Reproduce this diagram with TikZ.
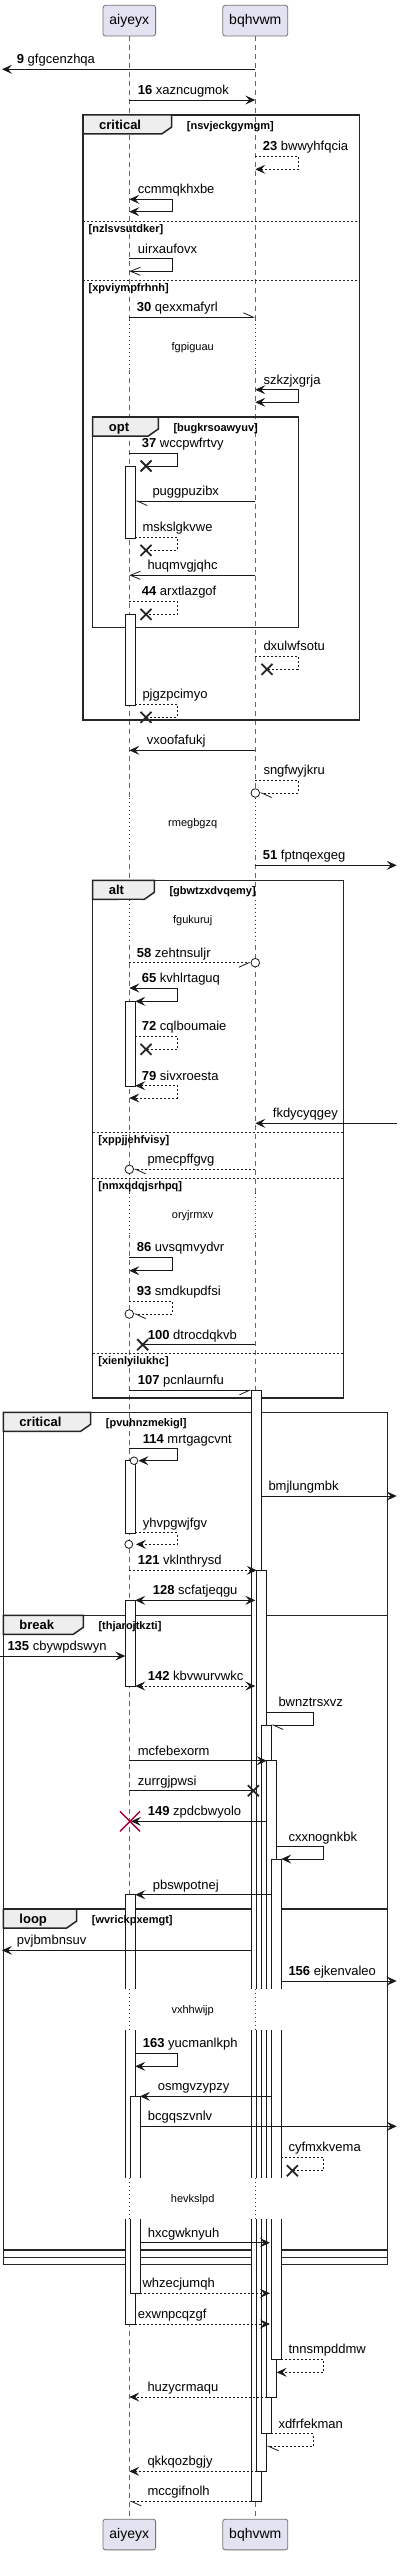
\documentclass[tikz,border=0pt]{standalone}
\usepackage{fontspec}
\setmainfont{Liberation Sans}
\usetikzlibrary{arrows.meta}
\definecolor{partfill}{HTML}{E2E2F0}
\definecolor{tabfill}{HTML}{EEEEEE}
\definecolor{delaycol}{HTML}{A80036}
\tikzstyle{partbox}=[draw=black!55,line width=0.8pt,fill=partfill,rounded corners=2.5pt,minimum height=30.7pt,inner sep=0pt,font=\fontsize{14}{16}\selectfont]
\tikzstyle{lifeline}=[black!60,line width=0.8pt,dash pattern=on 5pt off 4pt]
\tikzstyle{delayline}=[delaycol,line width=0.8pt,dash pattern=on 1pt off 3pt]
\tikzstyle{actbox}=[draw=black!90,fill=white,line width=0.8pt]
\tikzstyle{framebox}=[draw=black!85,line width=1.5pt]
\tikzstyle{frametab}=[draw=black!85,fill=tabfill,line width=1.5pt]
\tikzstyle{sepline}=[black!85,line width=0.8pt,dash pattern=on 2pt off 2pt]
\tikzstyle{sync}=[black!90,line width=0.8pt]
\tikzstyle{dsync}=[sync,dash pattern=on 2pt off 2pt]
\tikzstyle{headfull}=[-{Stealth[length=10pt,width=9pt,inset=4pt]}]
\tikzstyle{headboth}=[{Stealth[length=10pt,width=9pt,inset=4pt]}-{Stealth[length=10pt,width=9pt,inset=4pt]}]
\tikzstyle{headopen}=[-{Straight Barb[length=10pt,width=8pt]}]
\tikzstyle{halfl}=[-{Straight Barb[left,length=10pt,width=9pt]}]
\tikzstyle{halfr}=[-{Straight Barb[right,length=10pt,width=9pt]}]
\tikzstyle{lostx}=[black!85,line width=1.8pt]
\tikzstyle{killx}=[delaycol,line width=1.5pt]
\tikzstyle{ocirc}=[draw=black!90,fill=white,line width=0.8pt]
\tikzstyle{msglbl}=[anchor=base west,inner sep=0pt,font=\fontsize{13}{15}\selectfont]
\tikzstyle{guardlbl}=[anchor=base west,inner sep=0pt,font=\fontsize{11}{13}\selectfont\bfseries]
\tikzstyle{kindlbl}=[anchor=base west,inner sep=0pt,font=\fontsize{13}{15}\selectfont\bfseries]
\tikzstyle{delaylbl}=[inner sep=0pt,font=\fontsize{11}{13}\selectfont]
\def\xa{129.3}
\def\xb{255.3}
\begin{document}
\begin{tikzpicture}[x=1pt,y=-1pt]
\useasboundingbox (0,0) rectangle (402,2555);
\fill[white] (0,0) rectangle (402,2555);

% participants and lifelines
\node[partbox,minimum width=52.6pt] (pa) at (\xa,20.7) {aiyeyx};
\node[partbox,minimum width=65pt] (pb) at (\xb,20.7) {bqhvwm};
\node[partbox,minimum width=52.6pt] (pa2) at (\xa,2534.5) {aiyeyx};
\node[partbox,minimum width=65pt] (pb2) at (\xb,2534.5) {bqhvwm};
\draw[lifeline] (pa) -- (pa2);
\draw[lifeline] (pb) -- (pb2);

% frames
\foreach \xl/\yt/\xr/\yb/\tb in {83/115/359.7/720/171.7, 92.7/417/298.3/627.3/158.3,
  92.7/880.3/343.3/1398/154.3, 3.3/1412.3/387.7/2264.3/90.7,
  3.3/1615.3/387.7/2257.7/83.3, 3.3/1909/387.7/2250/76.7}{
  \draw[framebox] (\xl,\yt) rectangle (\xr,\yb);
  \filldraw[frametab] (\xl,\yt) -- (\tb,\yt) -- (\tb,\yt+12) -- (\tb-10,\yt+19) -- (\xl,\yt+19) -- cycle;
}
\foreach \xl/\xr/\ys in {83/359.7/221.3, 83/359.7/280.3, 92.7/343.3/1132.3, 92.7/343.3/1178.3, 92.7/343.3/1353.3}
  \draw[sepline] (\xl,\ys) -- (\xr,\ys);

% activations
\foreach \xl/\yt/\yb in {125.3/466.3/538.3, 125.3/614.3/705.3, 125.3/1001.3/1086.7, 125.3/1460.7/1533.3,
  125.3/1600.3/1686, 125.3/1894.7/2324, 130/2096.3/2293.3, 251.3/1390.3/2501.3, 256.7/1570.3/2471.3,
  261.3/1725/2433.7, 266.7/1760.7/2397, 271.3/1859/2359}
  \draw[actbox] (\xl,\yt) rectangle (\xl+10,\yb);

% frame labels
\foreach \xl/\yt/\tb/\kind/\guard [count=\i] in {83/115/171.7/critical/nsvjeckgymgm,
  92.7/417/158.3/opt/bugkrsoawyuv, 92.7/880.3/154.3/alt/gbwtzxdvqemy,
  3.3/1412.3/90.7/critical/pvuhnzmekigl, 3.3/1615.3/83.3/break/thjarojtkzti,
  3.3/1909/76.7/loop/wvrickpxemgt}{
  \node[kindlbl] (fk\i) at (\xl+16,\yt+14.5) {\kind};
  \node[guardlbl] (fg\i) at (\tb+15,\yt+14.5) {[\guard]};
}
\foreach \xl/\ys/\guard [count=\i] in {83/221.3/nzlsvsutdker, 83/280.3/xpviympfrhnh,
  92.7/1132.3/xppjjehfvisy, 92.7/1178.3/nmxqdqjsrhpq, 92.7/1353.3/xienlyilukhc}
  \node[guardlbl] (sg\i) at (\xl+5.5,\ys+11) {[\guard]};

% delays
\foreach \yt/\yb/\ym/\txt [count=\i] in {320/370/347.3/fgpiguau, 798/852/823.3/rmegbgzq, 899.5/940.3/920.3/fgukuruj,
  1192.5/1235/1215.3/oryjrmxv, 1988.7/2030.3/2011/vxhhwijp, 2178.3/2219.3/2200/hevkslpd}{
  \fill[white] (118,\yt) rectangle (142,\yb);
  \fill[white] (247,\yt) rectangle (290,\yb);
  \draw[delayline] (\xa,\yt) -- (\xa,\yb);
  \draw[delayline] (\xb,\yt) -- (\xb,\yb);
  \node[delaylbl] (dl\i) at (192.7,\ym) {\txt};
}

% messages
\draw[sync,headfull] (\xb,69.3) -- (2,69.3);
\node[msglbl] (m9) at (16.7,63.8) {\textbf{9} gfgcenzhqa};
\draw[sync,headfull] (\xa,100) -- (\xb,100);
\node[msglbl] (m16) at (137.7,94.5) {\textbf{16} xazncugmok};
\draw[dsync,headfull] (\xb,156) -- (298.3,156) -- (298.3,169.3) -- (\xb,169.3);
\node[msglbl] (m23) at (262.7,150.5) {\textbf{23} bwwyhfqcia};
\draw[sync,headboth] (\xa,199.3) -- (172.3,199.3) -- (172.3,211.7) -- (\xa,211.7);
\node[msglbl] (ma) at (137.7,193.8) {ccmmqkhxbe};
\draw[sync,headopen] (\xa,258.7) -- (172.3,258.7) -- (172.3,271.3) -- (\xa,271.3);
\node[msglbl] (mb) at (137.7,253.2) {uirxaufovx};
\draw[sync,halfl] (\xa,317.3) -- (\xb,317.3);
\node[msglbl] (m30) at (136.7,311.8) {\textbf{30} qexxmafyrl};
\draw[sync,headboth] (\xb,389.7) -- (298.3,389.7) -- (298.3,402.3) -- (\xb,402.3);
\node[msglbl] (mc) at (263.3,384.2) {szkzjxgrja};
\draw[sync] (\xa,453.3) -- (177.3,453.3) -- (177.3,466) -- (146,466);
\draw[lostx] (146,466) +(-5.5,-5.5) -- +(5.5,5.5) +(-5.5,5.5) -- +(5.5,-5.5);
\node[msglbl] (m37) at (141.7,447.8) {\textbf{37} wccpwfrtvy};
\draw[sync,halfl] (\xb,501) -- (135.3,501);
\node[msglbl] (md) at (152.3,495.5) {puggpuzibx};
\draw[dsync] (135.3,537.3) -- (177.3,537.3) -- (177.3,550.3) -- (146,550.3);
\draw[lostx] (146,550.3) +(-5.5,-5.5) -- +(5.5,5.5) +(-5.5,5.5) -- +(5.5,-5.5);
\node[msglbl] (me) at (142.3,531.8) {mskslgkvwe};
\draw[sync,headopen] (\xb,575.3) -- (\xa,575.3);
\node[msglbl] (mf) at (147.3,569.8) {huqmvgjqhc};
\draw[dsync] (\xa,601) -- (177.3,601) -- (177.3,614.3) -- (146,614.3);
\draw[lostx] (146,614.3) +(-5.5,-5.5) -- +(5.5,5.5) +(-5.5,5.5) -- +(5.5,-5.5);
\node[msglbl] (m44) at (141.7,595.5) {\textbf{44} arxtlazgof};
\draw[dsync] (\xb,656.3) -- (298.3,656.3) -- (298.3,669.3) -- (267,669.3);
\draw[lostx] (267,669.3) +(-5.5,-5.5) -- +(5.5,5.5) +(-5.5,5.5) -- +(5.5,-5.5);
\node[msglbl] (mg) at (263.3,650.8) {dxulwfsotu};
\draw[dsync] (135.3,704.3) -- (177.3,704.3) -- (177.3,717.3) -- (146,717.3);
\draw[lostx] (146,717.3) +(-5.5,-5.5) -- +(5.5,5.5) +(-5.5,5.5) -- +(5.5,-5.5);
\node[msglbl] (mh) at (142.3,698.8) {pjgzpcimyo};
\draw[sync,headfull] (\xb,750.3) -- (\xa,750.3);
\node[msglbl] (mi) at (146.7,744.8) {vxoofafukj};
\draw[dsync,halfl] (\xb,780.3) -- (298.3,780.3) -- (298.3,793) -- (259.8,793);
\draw[ocirc] (\xb,793) circle (4.3);
\node[msglbl] (mj) at (263.3,774.8) {sngfwyjkru};
\draw[sync,headfull] (\xb,865.3) -- (396.7,865.3);
\node[msglbl] (m51) at (262.7,859.8) {\textbf{51} fptnqexgeg};
\draw[dsync,halfr] (\xa,962.7) -- (250.8,962.7);
\draw[ocirc] (\xb,962.7) circle (4.3);
\node[msglbl] (m58) at (136.7,957.2) {\textbf{58} zehtnsuljr};
\draw[sync,headboth] (\xa,988) -- (177.3,988) -- (177.3,1001.3) -- (135.3,1001.3);
\node[msglbl] (m65) at (141.7,982.5) {\textbf{65} kvhlrtaguq};
\draw[dsync] (135.3,1036) -- (177.3,1036) -- (177.3,1049.3) -- (146,1049.3);
\draw[lostx] (146,1049.3) +(-5.5,-5.5) -- +(5.5,5.5) +(-5.5,5.5) -- +(5.5,-5.5);
\node[msglbl] (m72) at (141.7,1030.5) {\textbf{72} cqlboumaie};
\draw[dsync,headboth] (135.3,1085.7) -- (177.3,1085.7) -- (177.3,1098) -- (\xa,1098);
\node[msglbl] (m79) at (141.7,1080.2) {\textbf{79} sivxroesta};
\draw[sync,headfull] (396.7,1123.3) -- (\xb,1123.3);
\node[msglbl] (mk) at (272.7,1117.8) {fkdycyqgey};
\draw[dsync,halfl] (\xb,1169.3) -- (133.8,1169.3);
\draw[ocirc] (\xa,1169.3) circle (4.3);
\node[msglbl] (ml) at (147.3,1163.8) {pmecpffgvg};
\draw[sync,headfull] (\xa,1257.3) -- (172.3,1257.3) -- (172.3,1270.7) -- (\xa,1270.7);
\node[msglbl] (m86) at (136.7,1251.8) {\textbf{86} uvsqmvydvr};
\draw[dsync,halfl] (\xa,1301.3) -- (172.3,1301.3) -- (172.3,1314) -- (133.8,1314);
\draw[ocirc] (\xa,1314) circle (4.3);
\node[msglbl] (m93) at (136.7,1295.8) {\textbf{93} smdkupdfsi};
\draw[sync] (\xb,1344.7) -- (142.7,1344.7);
\draw[lostx] (142.7,1344.7) +(-5.5,-5.5) -- +(5.5,5.5) +(-5.5,5.5) -- +(5.5,-5.5);
\node[msglbl] (m100) at (147.7,1339.2) {\textbf{100} dtrocdqkvb};
\draw[sync,halfr] (\xa,1390.3) -- (251.3,1390.3);
\node[msglbl] (m107) at (137.7,1384.8) {\textbf{107} pcnlaurnfu};
\draw[sync,headfull] (\xa,1448.7) -- (177.3,1448.7) -- (177.3,1460.7) -- (138.5,1460.7);
\draw[ocirc] (134,1460.7) circle (3.8);
\node[msglbl] (m114) at (142.7,1443.2) {\textbf{114} mrtgagcvnt};
\draw[sync,headfull] (261.3,1496) -- (396.7,1496);
\node[msglbl] (mm) at (268.3,1490.5) {bmjlungmbk};
\draw[dsync,headfull] (135.3,1532.7) -- (177.3,1532.7) -- (177.3,1544.3) -- (136,1544.3);
\draw[ocirc] (128.8,1544.3) circle (4);
\node[msglbl] (mn) at (142.7,1527.2) {yhvpgwjfgv};
\draw[dsync,headfull] (\xa,1570.3) -- (256.7,1570.3);
\node[msglbl] (m121) at (137.7,1564.8) {\textbf{121} vklnthrysd};
\draw[sync,headboth] (135.3,1600.3) -- (\xb,1600.3);
\node[msglbl] (m128) at (152.7,1594.8) {\textbf{128} scfatjeqgu};
\draw[sync,headfull] (0,1656) -- (125.3,1656);
\node[msglbl] (m135) at (7.3,1650.5) {\textbf{135} cbywpdswyn};
\draw[dsync,headboth] (135.3,1686) -- (\xb,1686);
\node[msglbl] (m142) at (147.7,1680.5) {\textbf{142} kbvwurvwkc};
\draw[sync,halfl] (266.7,1712.3) -- (313.3,1712.3) -- (313.3,1725) -- (271.3,1725);
\node[msglbl] (mo) at (278.3,1706.8) {bwnztrsxvz};
\draw[sync,headfull] (\xa,1760.7) -- (266.7,1760.7);
\node[msglbl] (mp) at (137.7,1755.2) {mcfebexorm};
\draw[sync] (\xa,1790.7) -- (253.3,1790.7);
\draw[lostx] (253.3,1790.7) +(-5.5,-5.5) -- +(5.5,5.5) +(-5.5,5.5) -- +(5.5,-5.5);
\node[msglbl] (mq) at (137.7,1785.2) {zurrgjpwsi};
\draw[sync,headfull] (266.7,1821.3) -- (131,1821.3);
\draw[killx] (130,1821.3) +(-10,-10) -- +(10,10) +(-10,10) -- +(10,-10);
\node[msglbl] (m149) at (147.7,1815.8) {\textbf{149} zpdcbwyolo};
\draw[sync,headfull] (276.7,1846.7) -- (323.3,1846.7) -- (323.3,1859) -- (281.3,1859);
\node[msglbl] (mr) at (288.3,1841.2) {cxxnognkbk};
\draw[sync,headfull] (271.3,1894.7) -- (135.3,1894.7);
\node[msglbl] (ms) at (152.7,1889.2) {pbswpotnej};
\draw[sync,headfull] (251.3,1950.3) -- (2,1950.3);
\node[msglbl] (mt) at (16.7,1944.8) {pvjbmbnsuv};
\draw[sync,headfull] (281.3,1981) -- (396.7,1981);
\node[msglbl] (m156) at (288.3,1975.5) {\textbf{156} ejkenvaleo};
\draw[sync,headfull] (135.3,2053) -- (177.3,2053) -- (177.3,2066.3) -- (135.3,2066.3);
\node[msglbl] (m163) at (142.7,2047.5) {\textbf{163} yucmanlkph};
\draw[sync,headfull] (271.3,2096.3) -- (140,2096.3);
\node[msglbl] (mu) at (157.7,2090.8) {osmgvzypzy};
\draw[sync,headfull] (140,2126.3) -- (396.7,2126.3);
\node[msglbl] (mv) at (147.7,2120.8) {bcgqszvnlv};
\draw[dsync] (281.3,2157.3) -- (323.3,2157.3) -- (323.3,2170.7) -- (292.3,2170.7);
\draw[lostx] (292.3,2170.7) +(-5.5,-5.5) -- +(5.5,5.5) +(-5.5,5.5) -- +(5.5,-5.5);
\node[msglbl] (mw) at (288.3,2151.8) {cyfmxkvema};
\draw[sync,headfull] (140,2242.7) -- (270,2242.7);
\node[msglbl] (mx) at (147.7,2237.2) {hxcgwknyuh};
\draw[dsync,headfull] (140,2293.3) -- (270,2293.3);
\node[msglbl] (my) at (142.3,2287.8) {whzecjumqh};
\draw[dsync,headfull] (135.3,2324) -- (270,2324);
\node[msglbl] (mz) at (137.7,2318.5) {exwnpcqzgf};
\draw[dsync,headfull] (281.3,2359) -- (323.3,2359) -- (323.3,2372.3) -- (276.7,2372.3);
\node[msglbl] (maa) at (288.3,2353.5) {tnnsmpddmw};
\draw[dsync,headfull] (266.7,2397) -- (\xa,2397);
\node[msglbl] (mab) at (147.3,2391.5) {huzycrmaqu};
\draw[dsync,halfl] (271.3,2433.7) -- (313.3,2433.7) -- (313.3,2446.3) -- (266.7,2446.3);
\node[msglbl] (mac) at (278.3,2428.2) {xdfrfekman};
\draw[dsync,headfull] (256.7,2471.3) -- (\xa,2471.3);
\node[msglbl] (mad) at (147.3,2465.8) {qkkqozbgjy};
\draw[dsync,halfl] (251.3,2501.3) -- (\xa,2501.3);
\node[msglbl] (mae) at (147.3,2495.8) {mccgifnolh};
\end{tikzpicture}
\end{document}
